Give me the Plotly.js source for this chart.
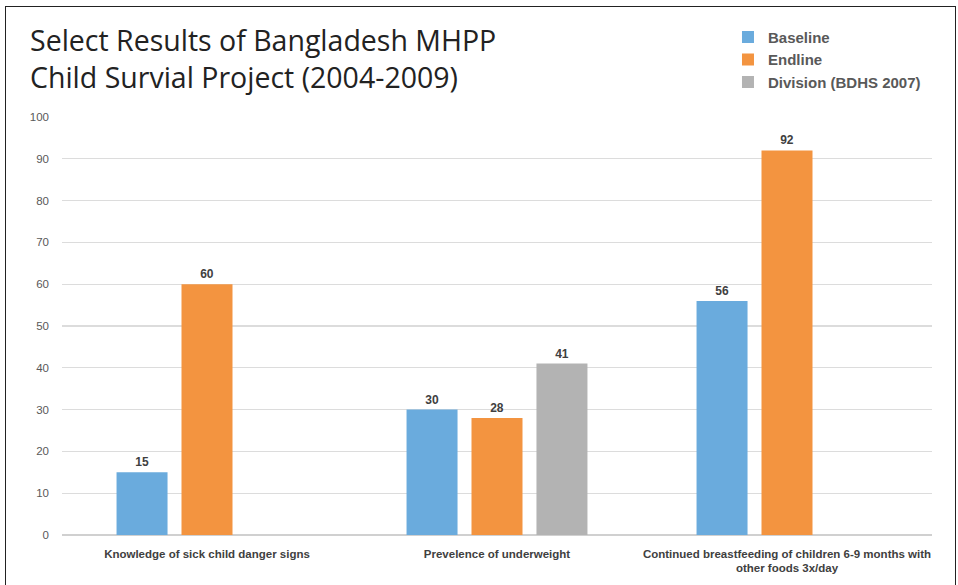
<!DOCTYPE html>
<html>
<head>
<meta charset="utf-8">
<script src="https://cdn.plot.ly/plotly-3.0.1.min.js"></script>
<style>
html,body{margin:0;padding:0;background:#fff;}
#chart{width:958px;height:585px;}
#frame{position:absolute;left:5px;top:6px;width:951px;height:600px;border:1.5px solid #222;border-bottom:none;pointer-events:none;box-sizing:border-box;}
</style>
</head>
<body>
<div id="chart"></div>
<div id="frame"></div>
<script>
const titleLines = [
  "Select Results of Bangladesh MHPP",
  "Child Survial Project (2004-2009)"
];
const categories = [
  "Knowledge of sick child danger signs",
  "Prevelence of underweight",
  "Continued breastfeeding of children 6-9 months with<br>other foods 3x/day"
];
const baseline = [15, 30, 56];
const endline = [60, 28, 92];
const division = [null, 41, null];
const yTicks = [0,10,20,30,40,50,60,70,80,90,100];

const labelFont = {family: "Liberation Sans, Arial, sans-serif", size: 12, color: "#404040", weight: "bold"};

function mk(name, vals, color) {
  return {
    type: 'bar', name: name, x: categories, y: vals,
    marker: {color: color},
    text: vals.map(v => v === null ? '' : String(v)),
    textposition: 'outside',
    textfont: labelFont,
    cliponaxis: false,
    hoverinfo: 'none'
  };
}

const data = [
  mk('Baseline', baseline, '#6AABDD'),
  mk('Endline', endline, '#F39440'),
  mk('Division (BDHS 2007)', division, '#B3B3B3')
];

const layout = {
  width: 958, height: 585,
  margin: {l: 62, r: 26, t: 117, b: 50},
  paper_bgcolor: '#fff', plot_bgcolor: '#fff',
  barmode: 'group', bargap: 0.328, bargroupgap: 0.215,
  annotations: [{
    text: titleLines.join('<br>'), xref: 'paper', yref: 'paper', x: -0.039, y: 1.1388,
    xanchor: 'left', yanchor: 'middle', align: 'left', showarrow: false,
    font: {family: 'Open Sans, sans-serif', size: 28.5, color: '#222'}
  }],
  showlegend: true,
  legend: {
    x: 0.7655, xref: 'paper', y: 1.23, yanchor: 'top', xanchor: 'left',
    font: {family: 'Liberation Sans, Arial, sans-serif', size: 15, color: '#595959', weight: 'bold'},
    itemwidth: 30, tracegroupgap: 0,
    bgcolor: 'rgba(0,0,0,0)'
  },
  xaxis: {
    type: 'category',
    tickfont: {family: 'Liberation Sans, Arial, sans-serif', size: 11.5, color: '#404040', weight: 'bold'},
    showline: false, ticks: '', zeroline: false, showgrid: false,
    ticklabelstandoff: 10, fixedrange: true
  },
  yaxis: {
    range: [0, 100], tickvals: yTicks, ticktext: yTicks.map(String),
    tickfont: {family: 'Liberation Sans, Arial, sans-serif', size: 11.5, color: '#595959'},
    gridcolor: '#DCDCDC', gridwidth: 1.2,
    zeroline: true, zerolinecolor: '#D0D0D0', zerolinewidth: 1.5,
    showline: false, ticks: '', ticklabelstandoff: 12, fixedrange: true
  }
};

Plotly.newPlot('chart', data, layout, {displayModeBar: false, staticPlot: true});
</script>
</body>
</html>
